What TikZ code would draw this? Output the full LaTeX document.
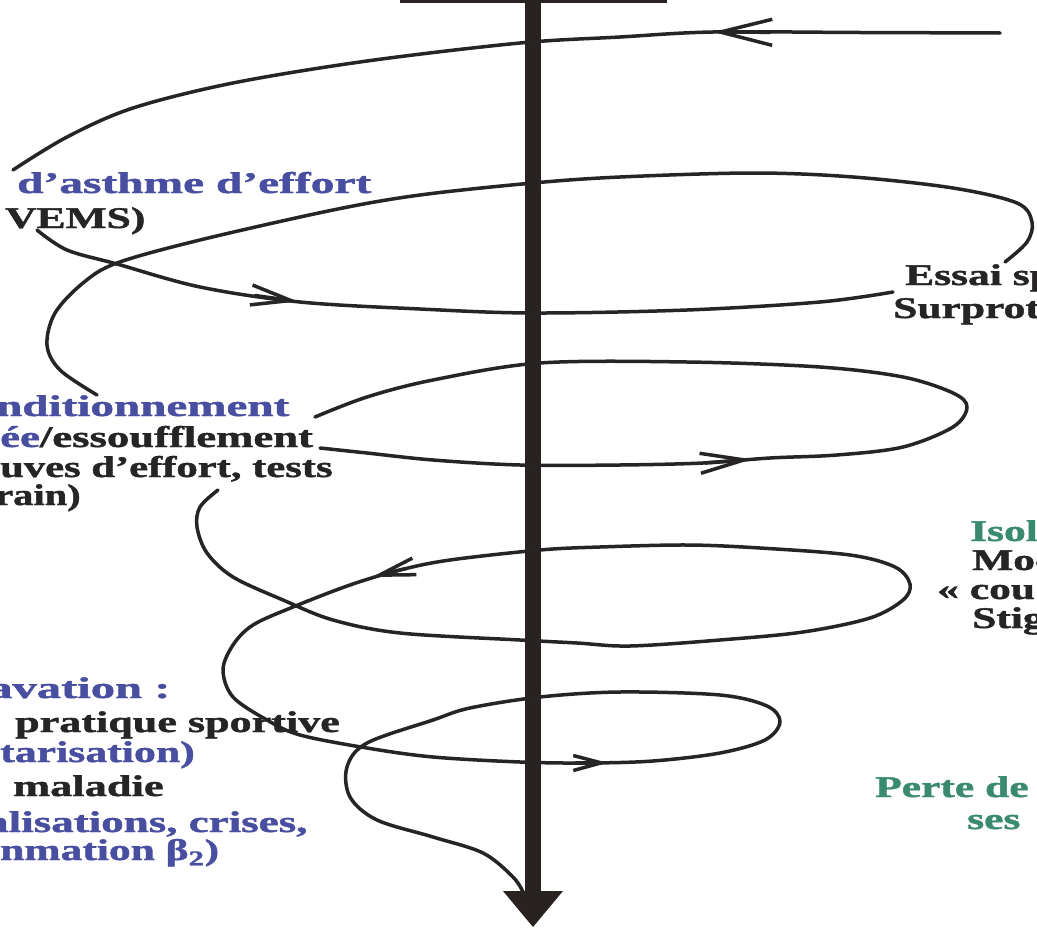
\documentclass[tikz,border=0pt]{standalone}
\usepackage{fontspec}
\setmainfont{Liberation Serif}
\newfontfamily\labfont{Liberation Serif Bold}[FakeBold=1.2]
\usetikzlibrary{arrows.meta}
\definecolor{lblue}{RGB}{72,78,160}
\definecolor{ldark}{RGB}{38,36,36}
\definecolor{lgreen}{RGB}{58,138,110}
\definecolor{axiscol}{RGB}{40,34,32}
\newcommand{\sx}[2]{\scalebox{#1}[1]{#2}}
\tikzset{
  lbl/.style={anchor=base west, inner sep=0pt, text=ldark, font=\labfont\fontsize{30}{33}\selectfont},
  spiral/.style={line width=3.5pt, draw=ldark, line cap=round, line join=round},
}
\begin{document}
\begin{tikzpicture}[x=1pt,y=-1pt]
\useasboundingbox (0,0) rectangle (1037,929);
\clip (0,0) rectangle (1037,929);
\fill[white] (0,0) rectangle (1037,929);

% ---- texts (left, cut by the frame) ----
\node[lbl, text=lblue] (t1a) at (17,193) {\sx{1.58}{d’asthme d’effort}};
\node[lbl] (t1b) at (5,228) {\sx{1.45}{VEMS)}};

\node[lbl, text=lblue] (t2a) at (-4,416) {\sx{1.57}{nditionnement}};
\node[lbl] (t2b) at (0,447) {\sx{1.49}{\textcolor{lblue}{ée}/essoufflement}};
\node[lbl] (t2c) at (0,477) {\sx{1.42}{uves d’effort, tests}};
\node[lbl] (t2d) at (-5,505) {\sx{1.35}{rain)}};

\node[lbl, text=lblue] (t3a) at (-12,698) {\sx{1.62}{avation :}};
\node[lbl] (t3b) at (15,732) {\sx{1.47}{pratique sportive}};
\node[lbl, text=lblue] (t3c) at (0,762) {\sx{1.46}{tarisation)}};
\node[lbl] (t3d) at (13,796) {\sx{1.48}{maladie}};
\node[lbl, text=lblue] (t3e) at (-14,832) {\sx{1.5}{alisations, crises,}};
\node[lbl, text=lblue] (t3f) at (0,860) {\sx{1.45}{nmation β\textsubscript{2})}};

% ---- texts (right, cut by the frame) ----
\node[lbl] (r1a) at (905,285) {\sx{1.45}{Essai sp}};
\node[lbl] (r1b) at (893,318) {\sx{1.45}{Surprot}};
\node[lbl, text=lgreen] (r2a) at (970,541) {\sx{1.45}{Isol}};
\node[lbl] (r2b) at (972,570) {\sx{1.45}{Moc}};
\node[lbl] (r2c) at (937,599) {\sx{1.45}{« cou}};
\node[lbl] (r2d) at (972,628) {\sx{1.45}{Stig}};
\node[lbl, text=lgreen] (r3a) at (875,797) {\sx{1.45}{Perte de}};
\node[lbl, text=lgreen] (r3b) at (967,829) {\sx{1.45}{ses}};

% ---- top box edge and axis ----
\draw[line width=3pt, axiscol] (400,1.2) -- (667,1.2);
\draw[line width=16pt, axiscol] (533,-5) -- (533,894);
\fill[axiscol] (503,891) -- (563,891) -- (533,927) -- cycle;

% ---- spiral ----
% A: top, going left
\draw[spiral] plot[smooth, tension=0.55] coordinates {(1000,33) (860,32.5) (713,32) (620,37) (520,43) (367,61) (233,83) (133,108) (67,137) (13,170)};
\draw[spiral, -{Straight Barb[length=52pt,width=26pt]}] (770,32.3) -- (713,32);
% B
\draw[spiral] plot[smooth, tension=0.55] coordinates {(37,230) (67,250) (117,264) (200,287) (300,302) (420,309) (533,313) (687,310) (820,302) (893,292)};
\draw[spiral, -{Straight Barb[length=40pt,width=20pt]}] (255,295.5) -- (298,301.5);
% C
\draw[spiral] plot[smooth, tension=0.55] coordinates {(1005,262) (1027,242) (1032,222) (1017,203) (953,188) (853,177) (753,173) (620,177) (533,183) (420,195) (333,210) (200,240) (117,263) (83,283) (55,313) (47,345) (60,370) (97,395)};
% D
\draw[spiral] plot[smooth, tension=0.55] coordinates {(320,448) (367,453) (433,460) (520,465) (620,465) (703,463) (770,458) (837,455) (903,447) (953,427) (967,407) (953,393) (903,377) (820,367) (687,362) (540,363) (433,380) (367,397) (315,417)};
\draw[spiral, -{Straight Barb[length=44pt,width=20pt]}] (705,462.9) -- (752,459.3);
% E: long path down to the axis tip
\draw[spiral] plot[smooth, tension=0.55] coordinates {(218,490) (200,507) (197,527) (207,553) (233,577) (283,600) (333,620) (400,633) (520,640) (577,643) (630,646) (720,640) (803,632) (870,618) (903,600) (910,584) (895,567) (850,555) (760,548) (687,545) (600,547) (540,550) (450,560) (400,570) (350,585) (293,607) (253,625) (233,645) (223,670) (233,697) (267,720) (300,735) (367,748) (433,757) (520,762) (587,763) (653,761) (720,753) (765,740) (780,722) (767,706) (720,695) (620,692) (540,697) (470,708) (433,720) (367,743) (347,767) (350,797) (377,820) (433,837) (483,853) (513,877) (523,892)};
\draw[spiral, -{Straight Barb[length=36pt,width=17pt]}] (406,568.5) -- (372,577);
\draw[spiral, -{Straight Barb[length=28pt,width=15pt]}] (575,763) -- (608,762.8);
\end{tikzpicture}
\end{document}
